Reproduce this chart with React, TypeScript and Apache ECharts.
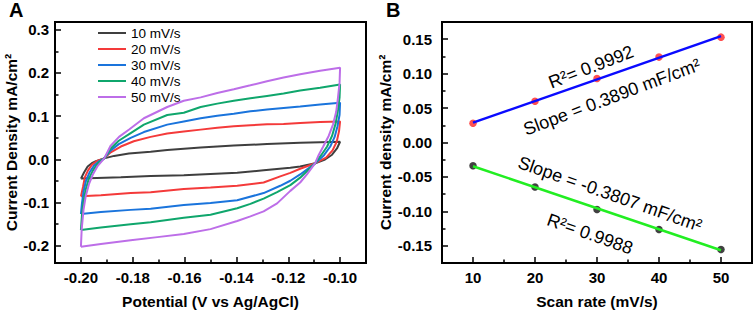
import React, { useEffect, useRef } from "react";
import * as echarts from "echarts";

// ---------- Panel A: cyclic voltammograms (potential V, current density mA/cm²) ----------
const cv10 = [
  [-0.2, -0.0446], [-0.1988, -0.0306], [-0.1974, -0.0165], [-0.1958, -0.0089], [-0.1942, -0.0042],
  [-0.191, 0.0022], [-0.1872, 0.008], [-0.1815, 0.0134], [-0.1731, 0.0174], [-0.1667, 0.0219],
  [-0.1538, 0.0275], [-0.141, 0.0319], [-0.1282, 0.0353], [-0.1154, 0.0386], [-0.1, 0.0408],
  [-0.1012, 0.0252], [-0.1031, 0.0107], [-0.1058, -0.0004], [-0.1096, -0.0089],
  [-0.1154, -0.0165], [-0.1192, -0.0194], [-0.1295, -0.0254], [-0.1397, -0.0313], [-0.15, -0.0339],
  [-0.1603, -0.0366], [-0.1731, -0.0388], [-0.1846, -0.0417], [-0.2, -0.0446],
];
const cv20 = [
  [-0.2, -0.0857], [-0.1992, -0.0641], [-0.1985, -0.0417], [-0.1973, -0.0261], [-0.1958, -0.0127],
  [-0.1938, -0.0038], [-0.191, 0.0022], [-0.1885, 0.0163], [-0.1846, 0.0297], [-0.1796, 0.042],
  [-0.1731, 0.052], [-0.1667, 0.0598], [-0.1603, 0.0643], [-0.1538, 0.0688], [-0.1474, 0.0732],
  [-0.141, 0.0766], [-0.1346, 0.0788], [-0.1282, 0.081], [-0.1218, 0.0821], [-0.1154, 0.0844],
  [-0.1077, 0.0866], [-0.1, 0.0877],
  [-0.1004, 0.0654], [-0.1013, 0.0408], [-0.1029, 0.0208], [-0.1054, 0.004], [-0.1096, -0.0089],
  [-0.1154, -0.0217], [-0.1192, -0.0313], [-0.1231, -0.0395], [-0.1295, -0.0536], [-0.1397, -0.0612],
  [-0.15, -0.0652], [-0.1603, -0.0685], [-0.1731, -0.0763], [-0.1808, -0.0781], [-0.1923, -0.083],
  [-0.2, -0.0857],
];
const cv30 = [
  [-0.2, -0.1266], [-0.1996, -0.102], [-0.199, -0.0752], [-0.1981, -0.0507], [-0.1967, -0.0306],
  [-0.195, -0.015], [-0.1931, -0.0049], [-0.191, 0.0022], [-0.1885, 0.0208], [-0.1854, 0.0353],
  [-0.1808, 0.0498], [-0.1757, 0.0632], [-0.1667, 0.0804], [-0.1603, 0.0877], [-0.1538, 0.0951],
  [-0.1474, 0.1011], [-0.141, 0.1056], [-0.1346, 0.1112], [-0.1282, 0.1156], [-0.1218, 0.119],
  [-0.1154, 0.1223], [-0.1077, 0.1268], [-0.1, 0.1313],
  [-0.1002, 0.1033], [-0.101, 0.0766], [-0.1021, 0.052], [-0.1038, 0.0297], [-0.1062, 0.0096],
  [-0.1096, -0.0089],
  [-0.1154, -0.035], [-0.1192, -0.0496], [-0.1231, -0.0612], [-0.1295, -0.0781], [-0.1397, -0.0946],
  [-0.15, -0.1009], [-0.1603, -0.1058], [-0.1731, -0.1143], [-0.1808, -0.117], [-0.1923, -0.1221],
  [-0.2, -0.1266],
];
const cv40 = [
  [-0.2, -0.1638], [-0.1996, -0.1288], [-0.199, -0.0975], [-0.1981, -0.0685], [-0.1969, -0.044],
  [-0.1954, -0.0261], [-0.1935, -0.0094], [-0.191, 0.0022], [-0.1885, 0.0252], [-0.1854, 0.0431],
  [-0.1808, 0.0609], [-0.1757, 0.0804], [-0.1667, 0.1027], [-0.1603, 0.1078], [-0.1538, 0.1212],
  [-0.1474, 0.129], [-0.141, 0.1357], [-0.1346, 0.1413], [-0.1282, 0.1469], [-0.1218, 0.1525],
  [-0.1154, 0.1592], [-0.1077, 0.1658], [-0.1, 0.1732],
  [-0.1002, 0.1435], [-0.1008, 0.1145], [-0.1017, 0.0833], [-0.1031, 0.0542], [-0.105, 0.0297],
  [-0.1073, 0.0096], [-0.1096, -0.0089],
  [-0.1154, -0.0424], [-0.1192, -0.0596], [-0.1243, -0.0759], [-0.1295, -0.0908], [-0.1346, -0.1031],
  [-0.1397, -0.1132], [-0.15, -0.1281], [-0.1603, -0.1355], [-0.1731, -0.1455], [-0.1808, -0.1504],
  [-0.1923, -0.1578], [-0.2, -0.1638],
];
const cv50 = [
  [-0.2, -0.2025], [-0.1997, -0.1616], [-0.199, -0.117], [-0.1981, -0.0842], [-0.1969, -0.0574],
  [-0.1954, -0.0351], [-0.1935, -0.015], [-0.191, 0.0022], [-0.1885, 0.0319], [-0.1853, 0.052],
  [-0.1814, 0.0692], [-0.1757, 0.0951], [-0.1667, 0.1212], [-0.1603, 0.1357], [-0.1538, 0.1435],
  [-0.1474, 0.1536], [-0.141, 0.1621], [-0.1346, 0.1714], [-0.1282, 0.1808], [-0.1218, 0.1893],
  [-0.1154, 0.1971], [-0.1077, 0.2049], [-0.1, 0.2121],
  [-0.1002, 0.177], [-0.1008, 0.1435], [-0.1015, 0.11], [-0.1027, 0.081], [-0.1044, 0.0542],
  [-0.1065, 0.0297], [-0.1083, 0.0096], [-0.1096, -0.0089],
  [-0.1128, -0.035], [-0.1154, -0.0536], [-0.1192, -0.073], [-0.1243, -0.102], [-0.1295, -0.1205],
  [-0.1346, -0.1321], [-0.1397, -0.1429], [-0.15, -0.1616], [-0.1603, -0.1728], [-0.1705, -0.1801],
  [-0.1808, -0.1875], [-0.1923, -0.1958], [-0.2, -0.2025],
];
const cvNames = ["10 mV/s", "20 mV/s", "30 mV/s", "40 mV/s", "50 mV/s"];
const cvColors = ["#3f3f3f", "#f43a3a", "#1a74dc", "#0fa66c", "#bd6ee8"];
const cvCurves = [cv10, cv20, cv30, cv40, cv50];

const aXMajor = [-0.2, -0.18, -0.16, -0.14, -0.12, -0.1];
const aXMinor = [-0.19, -0.17, -0.15, -0.13, -0.11];
const aYMajor = [-0.2, -0.1, 0, 0.1, 0.2, 0.3];
const aYMinor = [-0.15, -0.05, 0.05, 0.15, 0.25];

// ---------- Panel B: current density vs scan rate ----------
const scanRates = [10, 20, 30, 40, 50];
const anodic = [0.028, 0.06, 0.093, 0.124, 0.153];
const cathodic = [-0.0337, -0.0646, -0.0973, -0.1264, -0.1553];

const bXMajor = [10, 20, 30, 40, 50];
const bXMinor = [15, 25, 35, 45];
const bYMajor = [-0.15, -0.1, -0.05, 0, 0.05, 0.1, 0.15];
const bYMinor = [-0.125, -0.075, -0.025, 0.025, 0.075, 0.125];

function fitLine(xs: number[], ys: number[]) {
  const n = xs.length;
  const mx = xs.reduce((a, b) => a + b, 0) / n;
  const my = ys.reduce((a, b) => a + b, 0) / n;
  let sxy = 0, sxx = 0;
  for (let i = 0; i < n; i++) {
    sxy += (xs[i] - mx) * (ys[i] - my);
    sxx += (xs[i] - mx) * (xs[i] - mx);
  }
  const k = sxy / sxx;
  const b = my - k * mx;
  const x0 = xs[0], x1 = xs[n - 1];
  return [[x0, k * x0 + b], [x1, k * x1 + b]];
}

const FONT = "'Liberation Sans', Arial, sans-serif";
const tickLabel = { color: "#000", fontSize: 15, fontWeight: "bold" as const, fontFamily: FONT };
const nameStyle = { color: "#000", fontSize: 15.5, fontWeight: "bold" as const, fontFamily: FONT };

function majorAxis(gridIndex: number, min: number, max: number, values: number[], digits: number, extra: any) {
  return {
    type: "value",
    gridIndex,
    min,
    max,
    axisLine: { show: false, onZero: false },
    splitLine: { show: false },
    axisTick: { show: true, inside: true, length: 6, customValues: values, lineStyle: { color: "#000", width: 1.5 } },
    axisLabel: { show: true, customValues: values, formatter: (v: number) => v.toFixed(digits), ...tickLabel, ...(extra.label || {}) },
    nameLocation: "middle",
    nameTextStyle: nameStyle,
    ...extra.axis,
  };
}
function minorAxis(gridIndex: number, min: number, max: number, values: number[], position: string) {
  return {
    type: "value",
    gridIndex,
    min,
    max,
    position,
    offset: 0,
    axisLine: { show: false, onZero: false },
    splitLine: { show: false },
    axisTick: { show: true, inside: true, length: 3.5, customValues: values, lineStyle: { color: "#000", width: 1.5 } },
    axisLabel: { show: false },
  };
}

export default function App() {
  const ref = useRef<HTMLDivElement>(null);
  useEffect(() => {
    const chart = echarts.init(ref.current!, null, { renderer: "svg" });
    const upFit = fitLine(scanRates, anodic);
    const downFit = fitLine(scanRates, cathodic);

    const cvSeries = cvCurves.map((c, i) => ({
      type: "line",
      name: cvNames[i],
      xAxisIndex: 0,
      yAxisIndex: 0,
      data: c,
      symbol: "none",
      smooth: false,
      lineStyle: { color: cvColors[i], width: 2 },
      itemStyle: { color: cvColors[i] },
      z: 2 + i,
    }));

    const option: any = {
      animation: false,
      backgroundColor: "#fff",
      textStyle: { fontFamily: FONT },
      grid: [
        { left: 55, top: 22, width: 311, height: 250, show: true, borderColor: "#000", borderWidth: 2, containLabel: false },
        { left: 442, top: 22, width: 310, height: 250, show: true, borderColor: "#000", borderWidth: 2, containLabel: false },
      ],
      legend: {
        data: cvNames,
        orient: "vertical",
        left: 97,
        top: 26,
        padding: 0,
        itemWidth: 28,
        itemHeight: 14,
        itemGap: 2,
        itemStyle: { opacity: 0, borderWidth: 0 },
        lineStyle: { width: 2 },
        textStyle: { color: "#000", fontSize: 13.5, fontFamily: FONT },
      },
      xAxis: [
        majorAxis(0, -0.21, -0.09, aXMajor, 2, {
          axis: { position: "bottom", name: "Potential (V vs Ag/AgCl)", nameGap: 30 },
          label: { margin: 7 },
        }),
        minorAxis(0, -0.21, -0.09, aXMinor, "bottom"),
        majorAxis(1, 5, 55, bXMajor, 0, {
          axis: { position: "bottom", name: "Scan rate (mV/s)", nameGap: 30 },
          label: { margin: 7 },
        }),
        minorAxis(1, 5, 55, bXMinor, "bottom"),
      ],
      yAxis: [
        majorAxis(0, -0.24, 0.318, aYMajor, 1, {
          axis: { position: "left", name: "Current Density mA/cm²", nameGap: 35 },
          label: { margin: 6 },
        }),
        minorAxis(0, -0.24, 0.318, aYMinor, "left"),
        majorAxis(1, -0.175, 0.175, bYMajor, 2, {
          axis: { position: "left", name: "Current density mA/cm²", nameGap: 44 },
          label: { margin: 10 },
        }),
        minorAxis(1, -0.175, 0.175, bYMinor, "left"),
      ],
      series: [
        ...cvSeries,
        {
          type: "scatter",
          name: "anodic",
          xAxisIndex: 2,
          yAxisIndex: 2,
          data: scanRates.map((x, i) => [x, anodic[i]]),
          symbolSize: 7.5,
          itemStyle: { color: "#ff2424" },
          z: 2,
        },
        {
          type: "line",
          name: "anodic fit",
          xAxisIndex: 2,
          yAxisIndex: 2,
          data: upFit,
          symbol: "none",
          lineStyle: { color: "#0a0aff", width: 2.5 },
          z: 3,
        },
        {
          type: "scatter",
          name: "cathodic",
          xAxisIndex: 2,
          yAxisIndex: 2,
          data: scanRates.map((x, i) => [x, cathodic[i]]),
          symbolSize: 7.5,
          itemStyle: { color: "#111" },
          z: 2,
        },
        {
          type: "line",
          name: "cathodic fit",
          xAxisIndex: 2,
          yAxisIndex: 2,
          data: downFit,
          symbol: "none",
          lineStyle: { color: "#22ee22", width: 2.5 },
          z: 3,
        },
      ],
      graphic: [
        { type: "text", left: 9, top: 0, style: { text: "A", fontSize: 20, fontWeight: "bold", fontFamily: FONT, fill: "#000" } },
        { type: "text", left: 386, top: 0, style: { text: "B", fontSize: 20, fontWeight: "bold", fontFamily: FONT, fill: "#000" } },
        {
          type: "text", x: 591, y: 67, rotation: 0.37,
          style: { text: "R²= 0.9992", fontSize: 18, fontFamily: FONT, fill: "#000", align: "center", verticalAlign: "middle" },
        },
        {
          type: "text", x: 612, y: 97, rotation: 0.36,
          style: { text: "Slope = 0.3890 mF/cm²", fontSize: 18, fontFamily: FONT, fill: "#000", align: "center", verticalAlign: "middle" },
        },
        {
          type: "text", x: 610, y: 194, rotation: -0.34,
          style: { text: "Slope = -0.3807 mF/cm²", fontSize: 18, fontFamily: FONT, fill: "#000", align: "center", verticalAlign: "middle" },
        },
        {
          type: "text", x: 590, y: 234, rotation: -0.34,
          style: { text: "R²= 0.9988", fontSize: 18, fontFamily: FONT, fill: "#000", align: "center", verticalAlign: "middle" },
        },
      ],
    };
    chart.setOption(option);
    return () => chart.dispose();
  }, []);
  return (
    <div
      ref={ref}
      style={{ position: "absolute", left: 0, top: 0, width: 754, height: 314, background: "#fff" }}
    />
  );
}
